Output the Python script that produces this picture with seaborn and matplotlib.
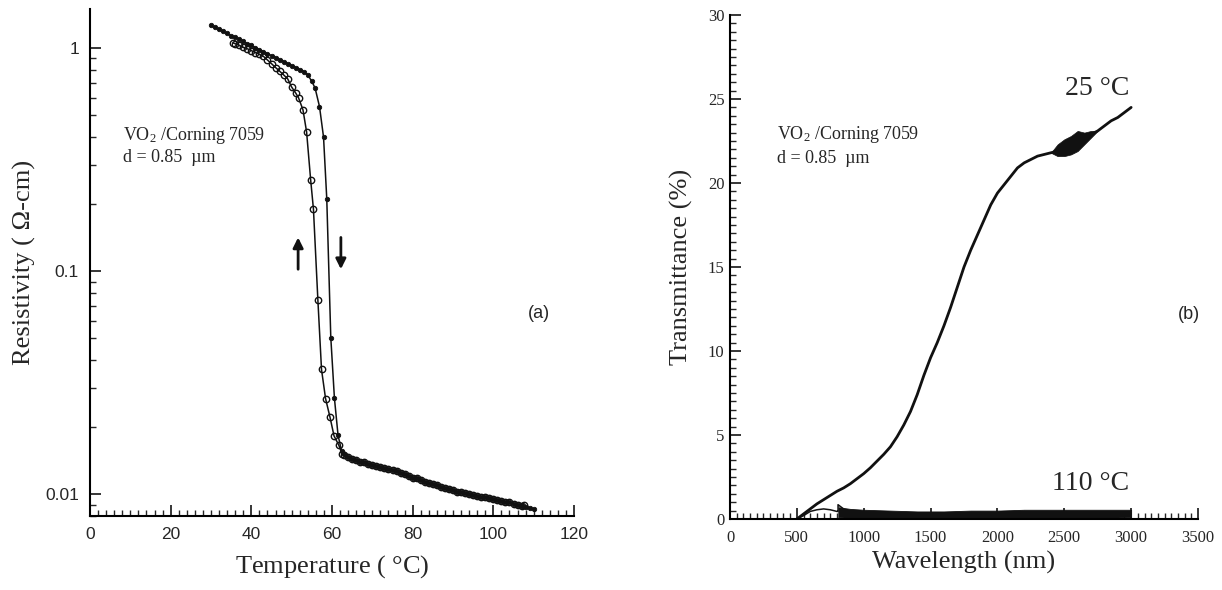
import matplotlib
matplotlib.use("Agg")
import matplotlib.pyplot as plt
import seaborn as sns
from matplotlib.ticker import MultipleLocator, LogLocator, FuncFormatter, NullFormatter

# ---------------- Panel (a): resistivity vs temperature ----------------
heat_T = [30, 31, 32, 33, 34, 35, 36, 37, 38, 39, 40, 41, 42, 43, 44, 45, 46, 47, 48,
          49, 50, 51, 52, 53, 54, 55, 55.8, 56.9, 57.9, 58.7, 59.7, 60.6, 61.5, 62.4,
          63, 64, 65, 66, 67, 68, 69, 70, 71, 72, 73, 74, 75, 76, 77, 78, 79, 80, 81,
          82, 83, 84, 85, 86, 87, 88, 89, 90, 91, 92, 93, 94, 95, 96, 97, 98, 99, 100,
          101, 102, 103, 104, 105, 106, 107, 108, 109, 110]
heat_R = [1.266, 1.24, 1.215, 1.19, 1.166, 1.14, 1.118, 1.095, 1.073, 1.05, 1.03, 1.008,
          0.987, 0.967, 0.947, 0.928, 0.909, 0.89, 0.872, 0.854, 0.837, 0.82, 0.803,
          0.786, 0.76, 0.71, 0.664, 0.548, 0.40, 0.212, 0.0505, 0.027, 0.0184, 0.0156,
          0.0151, 0.0147, 0.0144, 0.0142, 0.0140, 0.0139, 0.0137, 0.0136, 0.0134, 0.0133,
          0.0131, 0.0130, 0.0128, 0.0127, 0.0125, 0.0123, 0.0121, 0.0119, 0.0118, 0.0116,
          0.0114, 0.0113, 0.0111, 0.0110, 0.0108, 0.0107, 0.0106, 0.0105, 0.0103, 0.0102,
          0.0101, 0.0100, 0.0099, 0.0098, 0.0097, 0.0097, 0.0096, 0.0095, 0.0094, 0.0093,
          0.0092, 0.0092, 0.0091, 0.0090, 0.0089, 0.0088, 0.0087, 0.0086]

cool_T = [107.5, 107, 106, 105, 104, 103, 102, 101, 100, 99, 98, 97, 96, 95, 94, 93, 92,
          91, 90, 89, 88, 87, 86, 85, 84, 83, 82, 81, 80, 79, 78, 77, 76, 75, 74, 73, 72,
          71, 70, 69, 68, 67, 66, 65, 64, 63, 62.5, 61.7, 60.5, 59.5, 58.4, 57.4, 56.5,
          55.4, 54.7, 53.7, 52.8, 51.7, 51, 50, 49, 48, 47, 46, 45, 44, 43, 42, 41, 40,
          39, 38, 37, 36, 35.5]
cool_R = [0.0090, 0.0089, 0.0090, 0.0091, 0.0092, 0.0092, 0.0093, 0.0094, 0.0095, 0.0096,
          0.0097, 0.0097, 0.0098, 0.0099, 0.0100, 0.0101, 0.0102, 0.0103, 0.0105, 0.0106,
          0.0107, 0.0108, 0.0110, 0.0111, 0.0113, 0.0114, 0.0116, 0.0118, 0.0119, 0.0121,
          0.0123, 0.0125, 0.0127, 0.0128, 0.0130, 0.0131, 0.0133, 0.0134, 0.0136, 0.0137,
          0.0139, 0.0140, 0.0142, 0.0144, 0.0147, 0.0150, 0.0152, 0.0166, 0.0183, 0.0222,
          0.0269, 0.0363, 0.0743, 0.19, 0.258, 0.422, 0.53, 0.60, 0.63, 0.67, 0.73, 0.76,
          0.79, 0.82, 0.853, 0.886, 0.92, 0.94, 0.957, 0.976, 0.995, 1.01, 1.03, 1.048, 1.057]

# ---------------- Panel (b): transmittance vs wavelength ----------------
wl_25 = [500, 550, 600, 650, 700, 750, 800, 850, 900, 950, 1000, 1050, 1100, 1150, 1200,
         1250, 1300, 1350, 1400, 1450, 1500, 1550, 1600, 1650, 1700, 1750, 1800, 1850,
         1900, 1950, 2000, 2050, 2100, 2150, 2200, 2250, 2300, 2350, 2400, 2450, 2500,
         2550, 2600, 2650, 2700, 2750, 2800, 2850, 2900, 2950, 3000]
tr_25 = [0.0, 0.3, 0.6, 0.9, 1.15, 1.4, 1.65, 1.85, 2.1, 2.4, 2.7, 3.05, 3.45, 3.85, 4.3,
         4.9, 5.6, 6.4, 7.4, 8.55, 9.6, 10.5, 11.5, 12.6, 13.8, 15.0, 16.0, 16.9, 17.8,
         18.7, 19.4, 19.9, 20.4, 20.9, 21.2, 21.4, 21.6, 21.7, 21.8, 21.9, 22.0, 22.1,
         22.4, 22.7, 22.9, 23.1, 23.4, 23.7, 23.9, 24.2, 24.5]
noise25_wl = [2400, 2450, 2500, 2550, 2600, 2650, 2700, 2750]
noise25_lo = [21.8, 21.6, 21.6, 21.7, 21.9, 22.3, 22.7, 23.1]
noise25_hi = [21.8, 22.3, 22.6, 22.8, 23.1, 23.0, 23.1, 23.1]

wl_110 = [500, 550, 600, 650, 700, 750, 800, 808, 808, 900, 1000, 1200, 1400, 1600, 1800,
          2000, 2200, 2400, 2600, 2800, 3000]
tr_110 = [0.0, 0.2, 0.45, 0.55, 0.6, 0.55, 0.45, 0.45, 0.85, 0.3, 0.28, 0.27, 0.27, 0.27,
          0.27, 0.28, 0.3, 0.3, 0.3, 0.3, 0.3]
band110_wl = [810, 900, 1000, 1200, 1400, 1600, 1800, 2000, 2200, 2400, 2600, 2800, 3000]
band110_lo = [0.1, 0.08, 0.08, 0.08, 0.08, 0.08, 0.08, 0.08, 0.08, 0.08, 0.08, 0.08, 0.1]
band110_hi = [0.7, 0.6, 0.55, 0.5, 0.45, 0.45, 0.5, 0.5, 0.55, 0.55, 0.55, 0.55, 0.55]

# ---------------- Styling ----------------
sns.set_theme(style="ticks")
plt.rcParams.update({
    "font.family": ["Liberation Serif", "DejaVu Serif"],
    "mathtext.fontset": "custom",
    "mathtext.rm": "Liberation Serif",
    "mathtext.it": "Liberation Serif:italic",
    "xtick.direction": "in",
    "ytick.direction": "in",
    "axes.linewidth": 1.5,
    "axes.edgecolor": "black",
    "figure.facecolor": "white",
    "axes.facecolor": "white",
})

INK = "#111111"
SANS = ["Liberation Sans", "DejaVu Sans"]
SERIF = ["Liberation Serif", "DejaVu Serif"]

fig = plt.figure(figsize=(12.22, 5.9), dpi=100)
ax1 = fig.add_axes([90 / 1222, 1 - 516 / 590, 484 / 1222, 507 / 590])
ax2 = fig.add_axes([730 / 1222, 1 - 519 / 590, 468 / 1222, 504 / 590])

# ---- Panel (a)
ax1.set_yscale("log")
sns.lineplot(x=heat_T, y=heat_R, ax=ax1, color=INK, linewidth=1.1, marker="o",
             markersize=3.2, markerfacecolor=INK, markeredgecolor=INK, markeredgewidth=0.6,
             estimator=None, sort=False)
sns.lineplot(x=cool_T, y=cool_R, ax=ax1, color=INK, linewidth=1.1, marker="o",
             markersize=4.6, markerfacecolor="none", markeredgecolor=INK, markeredgewidth=1.0,
             estimator=None, sort=False)
ax1.set_xlim(0, 120)
ax1.set_ylim(0.008, 1.5)
ax1.xaxis.set_major_locator(MultipleLocator(20))
ax1.xaxis.set_minor_locator(MultipleLocator(2))
ax1.yaxis.set_major_locator(LogLocator(base=10, numticks=10))
ax1.yaxis.set_minor_locator(LogLocator(base=10, subs=range(2, 10), numticks=20))
ax1.yaxis.set_major_formatter(FuncFormatter(lambda v, p: f"{v:g}"))
ax1.yaxis.set_minor_formatter(NullFormatter())
ax1.tick_params(which="major", length=8, width=1.3, pad=8, labelsize=12.5)
ax1.tick_params(which="minor", length=4, width=1.0)
for lab in ax1.get_xticklabels() + ax1.get_yticklabels():
    lab.set_fontfamily(SANS)
ax1.set_xlabel("Temperature ( $\\degree$C)", fontsize=19, family=SERIF, va="center")
ax1.set_ylabel("Resistivity ( \u03a9-cm)", fontsize=19, family=SERIF, va="center")
ax1.xaxis.set_label_coords(0.5, -0.10)
ax1.yaxis.set_label_coords(-0.135, 0.5)
ax1.text(0.068, 0.751, "VO$_2$ /Corning 7059", transform=ax1.transAxes, fontsize=13,
         family=SERIF, va="center", ha="left")
ax1.text(0.068, 0.708, "d = 0.85  \u00b5m", transform=ax1.transAxes, fontsize=13,
         family=SERIF, va="center", ha="left")
ax1.text(0.905, 0.40, "(a)", transform=ax1.transAxes, fontsize=13, family=SANS,
         va="center", ha="left")
ax1.annotate("", xy=(51.6, 0.146), xytext=(51.6, 0.0993),
             arrowprops=dict(arrowstyle="-|>,head_length=0.5,head_width=0.25", lw=2.0, color=INK))
ax1.annotate("", xy=(62.2, 0.0993), xytext=(62.2, 0.146),
             arrowprops=dict(arrowstyle="-|>,head_length=0.5,head_width=0.25", lw=2.0, color=INK))
sns.despine(ax=ax1)

# ---- Panel (b)
ax2.fill_between(band110_wl, band110_lo, band110_hi, color=INK, linewidth=0.6)
sns.lineplot(x=wl_110, y=tr_110, ax=ax2, color=INK, linewidth=1.1, estimator=None, sort=False)
ax2.fill_between(noise25_wl, noise25_lo, noise25_hi, color=INK, linewidth=0.5)
sns.lineplot(x=wl_25, y=tr_25, ax=ax2, color=INK, linewidth=2.0, estimator=None, sort=False)
ax2.set_xlim(0, 3500)
ax2.set_ylim(0, 30)
ax2.xaxis.set_major_locator(MultipleLocator(500))
ax2.xaxis.set_minor_locator(MultipleLocator(50))
ax2.yaxis.set_major_locator(MultipleLocator(5))
ax2.yaxis.set_minor_locator(MultipleLocator(0.5))
ax2.tick_params(which="major", length=8, width=1.3, labelsize=12)
ax2.tick_params(axis="x", which="major", pad=8)
ax2.tick_params(axis="y", which="major", pad=4)
ax2.tick_params(which="minor", length=4, width=1.0)
for lab in ax2.get_xticklabels() + ax2.get_yticklabels():
    lab.set_fontfamily(SERIF)
ax2.set_xlabel("Wavelength (nm)", fontsize=19, family=SERIF, va="center")
ax2.set_ylabel("Transmittance (%)", fontsize=19, family=SERIF, va="center")
ax2.xaxis.set_label_coords(0.5, -0.087)
ax2.yaxis.set_label_coords(-0.103, 0.5)
ax2.text(0.1004, 0.762, "VO$_2$ /Corning 7059", transform=ax2.transAxes, fontsize=13,
         family=SERIF, va="center", ha="left")
ax2.text(0.1004, 0.716, "d = 0.85  \u00b5m", transform=ax2.transAxes, fontsize=13,
         family=SERIF, va="center", ha="left")
ax2.text(0.716, 0.855, "25 \u00b0C", transform=ax2.transAxes, fontsize=20,
         family=SERIF, va="center", ha="left")
ax2.text(0.688, 0.071, "110 \u00b0C", transform=ax2.transAxes, fontsize=20,
         family=SERIF, va="center", ha="left")
ax2.text(0.957, 0.405, "(b)", transform=ax2.transAxes, fontsize=13, family=SANS,
         va="center", ha="left")
sns.despine(ax=ax2)

fig.savefig("out.png", dpi=100, facecolor="white")
